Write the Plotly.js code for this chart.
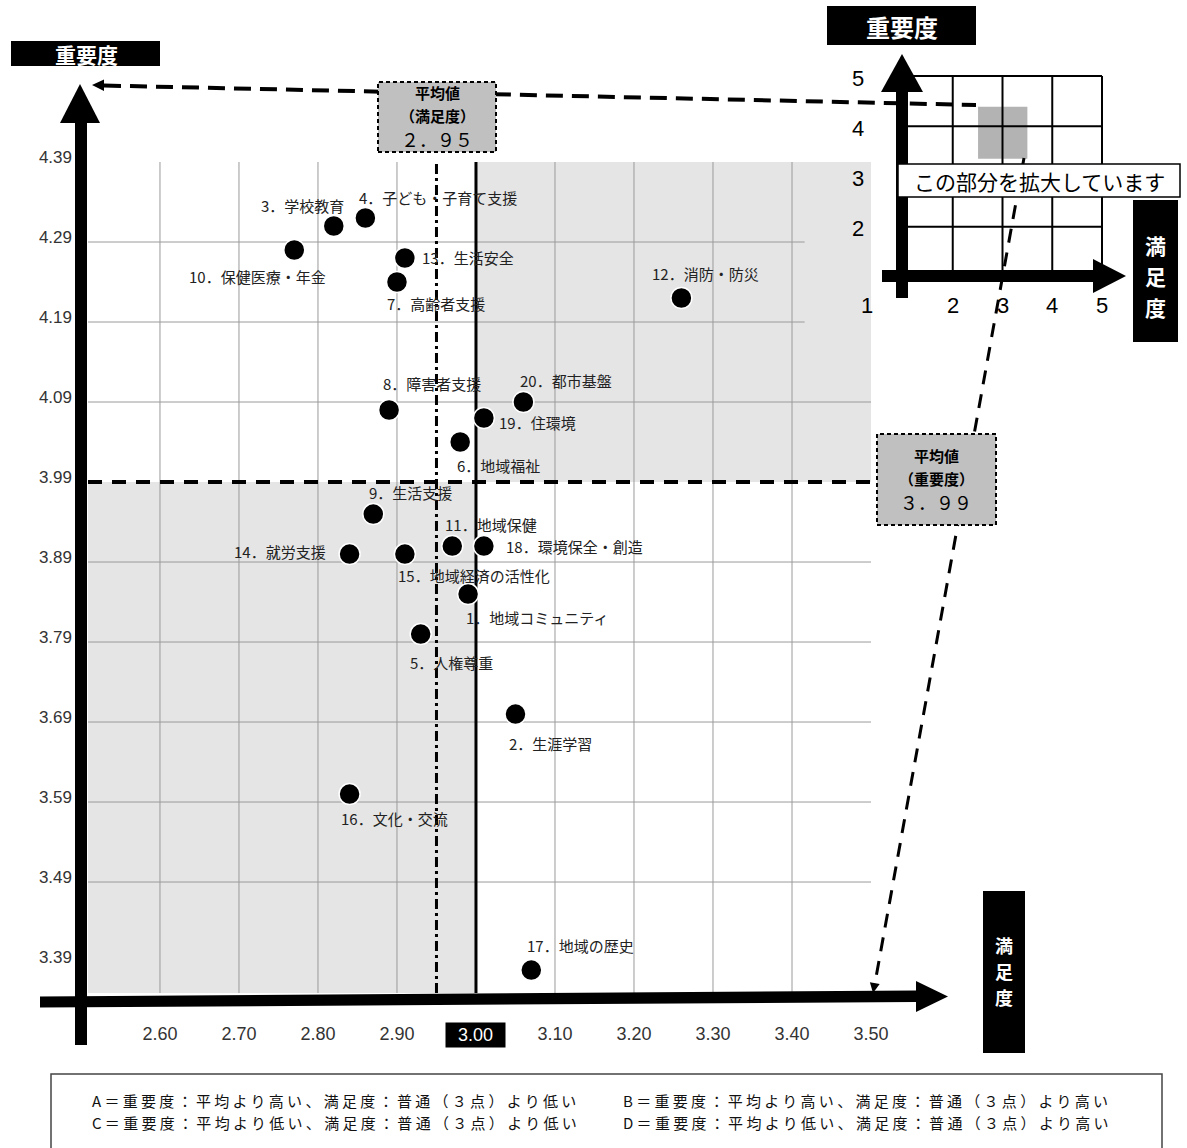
<!DOCTYPE html>
<html><head><meta charset="utf-8">
<script src="https://cdn.plot.ly/plotly-3.0.1.min.js"></script>
<style>html,body{margin:0;padding:0;background:#fff}#chart{width:1187px;height:1148px}</style>
</head><body><div id="chart"></div>
<script>
// ---------- data ----------
const itemNo = [1,2,3,4,5,6,7,8,9,10,11,12,13,14,15,16,17,18,19,20];
const itemNames = ["地域コミュニティ","生涯学習","学校教育","子ども・子育て支援","人権尊重","地域福祉","高齢者支援","障害者支援","生活支援","保健医療・年金","地域保健","消防・防災","生活安全","就労支援","地域経済の活性化","文化・交流","地域の歴史","環境保全・創造","住環境","都市基盤"];
const satisfaction = [2.99,3.05,2.82,2.86,2.93,2.98,2.90,2.89,2.87,2.77,2.97,3.26,2.91,2.84,2.91,2.84,3.07,3.01,3.01,3.06];
const importance  = [3.85,3.70,4.31,4.32,3.80,4.04,4.24,4.08,3.95,4.28,3.91,4.22,4.27,3.90,3.90,3.60,3.38,3.91,4.07,4.09];
const meanSatisfaction = 2.95;
const meanImportance = 3.99;
const neutralScore = 3.00;
const xTickVals = [2.6,2.7,2.8,2.9,3.0,3.1,3.2,3.3,3.4,3.5];
const xTickText = ["2.60","2.70","2.80","2.90","3.00","3.10","3.20","3.30","3.40","3.50"];
const yTickVals = [4.39,4.29,4.19,4.09,3.99,3.89,3.79,3.69,3.59,3.49,3.39];
const yTickText = ["4.39","4.29","4.19","4.09","3.99","3.89","3.79","3.69","3.59","3.49","3.39"];
const insetTicks = [1,2,3,4,5];
const axisNameImportance = "重要度";
const axisNameSatisfaction = "満足度";
const legendLines = [
  "A＝重要度：平均より高い、満足度：普通（３点）より低い",
  "B＝重要度：平均より高い、満足度：普通（３点）より高い",
  "C＝重要度：平均より低い、満足度：普通（３点）より低い",
  "D＝重要度：平均より低い、満足度：普通（３点）より高い"
];

// ---------- label placement (style: pixel offsets) ----------
const labelPlacement = [
  [-4,23,'left'],[-8,29,'left'],[12,-20,'right'],[-8,-20,'left'],[-13,28,'left'],
  [-5,23,'left'],[-12,21,'left'],[-8,-27,'left'],[-6,-22,'left'],[34,27,'right'],
  [-9,-22,'left'],[-31,-25,'left'],[15,0,'left'],[-22,-3,'right'],[-9,21,'left'],
  [-11,24,'left'],[-6,-25,'left'],[20,0,'left'],[13,4,'left'],[-5,-22,'left']
];

// ---------- geometry ----------
const W = 1187, H = 1148;
const fx = x => x / W, fy = y => (H - y) / H;
const xRange = [2.5089, 3.5];
const yRange = [3.3513, 4.39];
const JP = '"Noto Sans CJK JP", sans-serif';
const NUM = '"Liberation Sans", Arial, sans-serif';

function toFullWidth(s){
  return s.replace(/[0-9]/g, c => String.fromCharCode(c.charCodeAt(0)+0xFEE0)).replace(/\./g,'．');
}

const shapes = [];
const black = {fillcolor:'#000', line:{width:0}};
function prect(x0,y0,x1,y1,opt){ shapes.push(Object.assign({type:'rect',xref:'paper',yref:'paper',layer:'above',x0:fx(x0),x1:fx(x1),y0:fy(y1),y1:fy(y0)},opt)); }
function ppoly(pts,fill){ shapes.push({type:'path',xref:'paper',yref:'paper',layer:'above',path:'M'+pts.map(p=>fx(p[0])+','+fy(p[1])).join('L')+'Z',fillcolor:fill,line:{width:0}}); }
function pline(x0,y0,x1,y1,line){ shapes.push({type:'line',xref:'paper',yref:'paper',layer:'above',x0:fx(x0),y0:fy(y0),x1:fx(x1),y1:fy(y1),line}); }

// quadrant shading
shapes.push({type:'rect',xref:'x',yref:'y',layer:'below',x0:xRange[0],x1:neutralScore,y0:yRange[0],y1:meanImportance,fillcolor:'#e5e5e5',line:{width:0}});
shapes.push({type:'rect',xref:'x',yref:'y',layer:'below',x0:neutralScore,x1:xRange[1]+0.01,y0:meanImportance,y1:yRange[1],fillcolor:'#e5e5e5',line:{width:0}});
// grid
xTickVals.forEach(v=>{
  if (Math.abs(v-neutralScore)<1e-9 || v>=xRange[1]) return;
  shapes.push({type:'line',xref:'x',yref:'y',layer:'below',x0:v,x1:v,y0:yRange[0],y1:yRange[1],line:{color:'#9a9a9a',width:1}});
});
yTickVals.forEach(v=>{
  if (Math.abs(v-meanImportance)<1e-9 || v>=yRange[1] || v<3.4) return;
  const xEnd = v>4.1 ? 3.416 : xRange[1];
  shapes.push({type:'line',xref:'x',yref:'y',layer:'below',x0:xRange[0],x1:xEnd,y0:v,y1:v,line:{color:'#9a9a9a',width:1}});
});
// reference lines
shapes.push({type:'line',xref:'x',yref:'y',layer:'below',x0:meanSatisfaction,x1:meanSatisfaction,y0:yRange[0],y1:yRange[1],line:{color:'#000',width:3,dash:'10px,4px,3px,4px'}});
shapes.push({type:'line',xref:'x',yref:'y',layer:'below',x0:neutralScore,x1:neutralScore,y0:yRange[0],y1:yRange[1],line:{color:'#000',width:3}});
shapes.push({type:'line',xref:'x',yref:'y',layer:'below',x0:xRange[0],x1:xRange[1],y0:meanImportance,y1:meanImportance,line:{color:'#000',width:4,dash:'14px,10px'}});

// main axis bars with arrows
prect(75,123,87,1045,black);
ppoly([[60,123],[80,84],[100,123]],'#000');
ppoly([[40,996.5],[916,990.5],[916,1002],[40,1007.5]],'#000');
ppoly([[916,981],[948,996.5],[916,1012]],'#000');

// inset (1..5 grid)
shapes.push({type:'rect',xref:'x2',yref:'y2',layer:'above',x0:xRange[0],x1:xRange[1],y0:yRange[0],y1:yRange[1],fillcolor:'#b3b3b3',line:{width:0}});
insetTicks.forEach(t=>{
  if (t===1) return;
  shapes.push({type:'line',xref:'x2',yref:'y2',layer:'above',x0:t,x1:t,y0:1,y1:5,line:{color:'#000',width:2}});
  shapes.push({type:'line',xref:'x2',yref:'y2',layer:'above',x0:1,x1:5,y0:t,y1:t,line:{color:'#000',width:2}});
});
prect(896,92,908,298,black);
ppoly([[881,92],[902,54],[923,92]],'#000');
prect(882,270,1093,282,black);
ppoly([[1093,259],[1126,276],[1093,293]],'#000');

// connectors
pline(104,85.5,976,105,{color:'#000',width:4,dash:'17px,9px'});
ppoly([[92,85],[104,79.5],[104,91]],'#000');
pline(1024,158,875,983,{color:'#000',width:3,dash:'14px,10px'});
ppoly([[873,993],[869.9,982.3],[879.7,984.1]],'#000');

// boxes
const meanBox = {fillcolor:'#c0c0c0', line:{color:'#000',width:2,dash:'4px,3px'}};
prect(378,82,496,152,meanBox);
prect(877,434,996,525,meanBox);
prect(898,164,1180,197,{fillcolor:'#fff',line:{color:'#000',width:1.5}});
prect(11,41,160,66,black);
prect(827,6,976,45,black);
prect(1133,200,1178,342,black);
prect(983,891,1025,1053,black);
prect(51,1074,1162,1175,{fillcolor:'rgba(0,0,0,0)',line:{color:'#444',width:1.5}});

// ---------- annotations ----------
const annotations = [];
function pann(x,y,text,font,extra){ annotations.push(Object.assign({xref:'paper',yref:'paper',x:fx(x),y:fy(y),text,showarrow:false,borderpad:0,xanchor:'center',yanchor:'middle',font:Object.assign({family:JP,color:'#000'},font)},extra||{})); }

itemNo.forEach((n,i)=>{
  const p = labelPlacement[i];
  annotations.push({xref:'x',yref:'y',x:satisfaction[i],y:importance[i],text:n+'．'+itemNames[i],showarrow:false,
    xanchor:p[2],yanchor:'middle',xshift:p[0],yshift:-p[1],font:{family:JP,size:15,color:'#222'}});
});

pann(86,54,'<b>'+axisNameImportance+'</b>',{size:21,color:'#fff'});
pann(901.5,26,'<b>'+axisNameImportance+'</b>',{size:24,color:'#fff'});
// vertical axis names, one character per line
[...axisNameSatisfaction].forEach((ch,k)=>{
  pann(1155.5,245+31*k,'<b>'+ch+'</b>',{size:21,color:'#fff'});
  pann(1004,945+26.2*k,'<b>'+ch+'</b>',{size:18,color:'#fff'});
});
// mean boxes
pann(437,93,'<b>平均値</b>',{size:15});
pann(437,115,'<b>（'+axisNameSatisfaction+'）</b>',{size:15});
pann(437,139.2,toFullWidth(meanSatisfaction.toFixed(2)),{size:18});
pann(936,456,'<b>平均値</b>',{size:15});
pann(936,478,'<b>（'+axisNameImportance+'）</b>',{size:15});
pann(936,502.2,toFullWidth(meanImportance.toFixed(2)),{size:18});
pann(1039,181,'この部分を拡大しています',{size:21});
const ls = s => '<span style="letter-spacing:3.3px">'+s+'</span>';
pann(91,1100,ls(legendLines[0]),{size:15,color:'#111'},{xanchor:'left'});
pann(622,1100,ls(legendLines[1]),{size:15,color:'#111'},{xanchor:'left'});
pann(91,1122.5,ls(legendLines[2]),{size:15,color:'#111'},{xanchor:'left'});
pann(622,1122.5,ls(legendLines[3]),{size:15,color:'#111'},{xanchor:'left'});

// highlighted 3.00 tick label
const neutralIdx = xTickVals.indexOf(neutralScore);
annotations.push({xref:'x',yref:'paper',x:neutralScore,y:fy(1034.5),text:xTickText[neutralIdx],showarrow:false,
  xanchor:'center',yanchor:'middle',bgcolor:'#000',width:57,height:22,font:{family:NUM,size:18,color:'#fff'}});

// inset tick labels
insetTicks.forEach(t=>{
  if (t===1) {
    annotations.push({xref:'paper',yref:'paper',x:fx(867),y:fy(305),text:String(t),showarrow:false,xanchor:'center',yanchor:'middle',font:{family:NUM,size:22,color:'#000'}});
    return;
  }
  annotations.push({xref:'x2',yref:'paper',x:t,y:fy(305),text:String(t),showarrow:false,xanchor:'center',yanchor:'middle',font:{family:NUM,size:22,color:'#000'}});
  annotations.push({xref:'paper',yref:'y2',x:fx(858),y:t,yshift:-2,text:String(t),showarrow:false,xanchor:'center',yanchor:'middle',font:{family:NUM,size:22,color:'#000'}});
});

// ---------- traces ----------
const traces = [
  {type:'scatter',mode:'markers',x:satisfaction,y:importance,xaxis:'x',yaxis:'y',cliponaxis:false,
   marker:{size:21,color:'#000',line:{color:'#fff',width:1.5}},hoverinfo:'skip',showlegend:false},
  {type:'scatter',mode:'markers',x:[insetTicks[0]],y:[insetTicks[0]],xaxis:'x2',yaxis:'y2',
   marker:{opacity:0},hoverinfo:'skip',showlegend:false}
];

const layout = {
  width:W, height:H,
  margin:{l:0,r:0,t:0,b:0},
  paper_bgcolor:'#fff', plot_bgcolor:'rgba(0,0,0,0)',
  font:{family:JP},
  showlegend:false,
  xaxis:{domain:[88/W,871/W],range:xRange,showgrid:false,zeroline:false,showline:false,ticks:'',
    tickmode:'array',tickvals:xTickVals,ticktext:xTickText.map((t,i)=>i===neutralIdx?'':t),
    tickfont:{family:NUM,size:18,color:'#333'},ticklabelstandoff:28,fixedrange:true},
  yaxis:{domain:[(H-993)/H,(H-162)/H],range:yRange,showgrid:false,zeroline:false,showline:false,ticks:'',
    tickmode:'array',tickvals:yTickVals,ticktext:yTickText,
    tickfont:{family:NUM,size:17,color:'#333'},ticklabelstandoff:15,ticklabelshift:-5,fixedrange:true},
  xaxis2:{domain:[898/W,1107/W],range:[0.9,5.1],anchor:'y2',showgrid:false,zeroline:false,showline:false,showticklabels:false,ticks:''},
  yaxis2:{domain:[(H-282)/H,(H-71)/H],range:[0.9,5.1],anchor:'x2',showgrid:false,zeroline:false,showline:false,showticklabels:false,ticks:''},
  shapes, annotations
};

Plotly.newPlot('chart', traces, layout, {staticPlot:true, displayModeBar:false});
</script></body></html>
